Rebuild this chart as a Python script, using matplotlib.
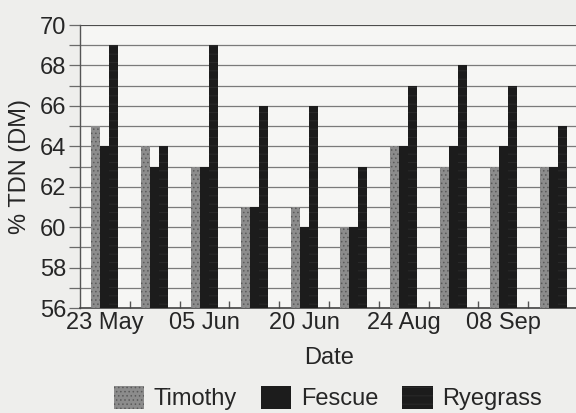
import numpy as np
import matplotlib
matplotlib.use("Agg")
import matplotlib.pyplot as plt

plt.rcParams['font.family'] = ['Liberation Sans', 'DejaVu Sans']
plt.rcParams['hatch.linewidth'] = 0.6

categories = ["23 May", "", "05 Jun", "", "20 Jun", "", "24 Aug", "", "08 Sep", ""]
timothy = [65, 64, 63, 61, 61, 60, 64, 63, 63, 63]
fescue = [64, 63, 63, 61, 60, 60, 64, 64, 64, 63]
ryegrass = [69, 64, 69, 66, 66, 63, 67, 68, 67, 65]
series_names = ["Timothy", "Fescue", "Ryegrass"]
y_ticks = [56, 58, 60, 62, 64, 66, 68, 70]

fig = plt.figure(figsize=(5.76, 4.13), dpi=100)
fig.patch.set_facecolor('#eeeeec')
ax = fig.add_axes([80/576, 1 - 308/413, 498/576, 283/413])
ax.set_facecolor('#f6f6f4')

x = np.arange(len(categories))
w = 0.18
txt = '#262626'
b1 = ax.bar(x - w, [v - 56 for v in timothy], w, bottom=56, color='#8c8c8c',
            edgecolor='#5a5a5a', hatch='....', linewidth=0, zorder=3, label=series_names[0])
b2 = ax.bar(x, [v - 56 for v in fescue], w, bottom=56, color='#1c1c1c',
            linewidth=0, zorder=3, label=series_names[1])
b3 = ax.bar(x + w, [v - 56 for v in ryegrass], w, bottom=56, color='#1c1c1c',
            edgecolor='#2c2c2c', hatch='--', linewidth=0, zorder=3, label=series_names[2])

ax.set_xlim(-0.5, len(categories) - 0.5)
ax.set_ylim(56, 70)
ax.set_yticks(y_ticks)
ax.set_yticks(np.arange(56, 71, 1), minor=True)
ax.yaxis.grid(True, which='both', color='#7a7a7a', linewidth=0.9, zorder=0)
ax.tick_params(axis='y', which='both', length=8, width=0.9, color='#6a6a6a',
               labelsize=17, labelcolor=txt, pad=2)

ax.set_xticks(x[::2])
ax.set_xticklabels([c for c in categories[::2]])
ax.set_xticks(np.arange(0.5, len(categories) - 0.5, 1), minor=True)
ax.tick_params(axis='x', which='major', length=0, labelsize=17, labelcolor=txt, pad=3)
ax.tick_params(axis='x', which='minor', length=5, direction='in', width=1, color='#555555')

for s in ['top', 'right']:
    ax.spines[s].set_visible(False)
ax.axhline(70, color='#444444', linewidth=1.2, zorder=2)
ax.spines['left'].set_color('#555555')
ax.spines['bottom'].set_color('#444444')
ax.spines['left'].set_linewidth(1)
ax.spines['bottom'].set_linewidth(1.2)

ax.set_ylabel('% TDN (DM)', fontsize=17, color=txt, labelpad=6)
ax.set_xlabel('Date', fontsize=17, color=txt, labelpad=9)

fig.legend(handles=[b1, b2, b3], labels=series_names, loc='lower center',
           bbox_to_anchor=(0.569, -0.045), ncol=3, frameon=False, fontsize=17,
           handlelength=1.3, handleheight=1.1, columnspacing=1.0, handletextpad=0.4,
           labelcolor=txt)

fig.savefig('out.png', dpi=100, facecolor=fig.get_facecolor())
